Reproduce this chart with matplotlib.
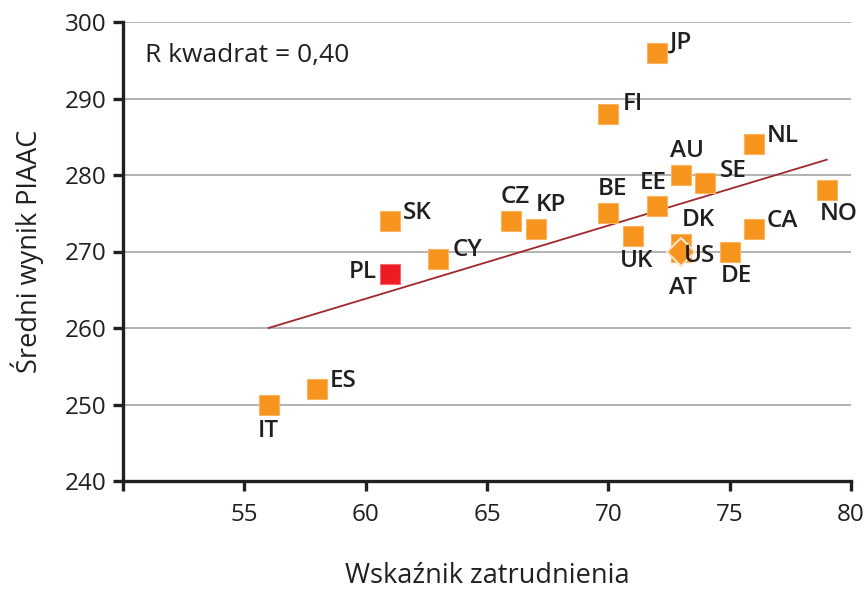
import matplotlib
matplotlib.use("Agg")
import matplotlib.pyplot as plt

plt.rcParams['font.family'] = ['Open Sans', 'DejaVu Sans']

# data
countries = ["JP", "FI", "NL", "AU", "SE", "NO", "EE", "BE", "SK", "CZ", "KP",
             "CA", "UK", "DK", "US", "DE", "CY", "ES", "IT"]
employment = [72, 70, 76, 73, 74, 79, 72, 70, 61, 66, 67, 76, 71, 73, 73, 75, 63, 58, 56]
score = [296, 288, 284, 280, 279, 278, 276, 275, 274, 274, 273, 273, 272, 271, 270, 270, 269, 252, 250]
pl_employment = 61
pl_score = 267
avg_employment = 73
avg_score = 270
trend_x = [56, 79]
trend_y = [260, 282]
r2_text = "R kwadrat = 0,40"

# label placement: (dx px, dy px, ha)
label_pos = {
    "JP": (13, 10, "left"), "FI": (14, 10, "left"),
    "NL": (13, 8, "left"), "AU": (6, 24, "center"),
    "SE": (14, 12, "left"), "NO": (-7, -24, "left"),
    "EE": (-4, 23, "center"), "BE": (4, 24, "center"),
    "SK": (13, 8, "left"), "CZ": (4, 24, "center"),
    "KP": (0, 24, "left"), "CA": (13, 8, "left"),
    "UK": (4, -25, "center"), "DK": (17, 24, "center"),
    "US": (3, -5, "left"), "DE": (7, -24, "center"),
    "CY": (14, 9, "left"), "ES": (13, 8, "left"),
    "IT": (0, -26, "center"),
}

orange = "#F7941D"
red = "#ED1C24"
txt = "#231F20"
lab_size = 17.5

fig = plt.figure(figsize=(8.65, 5.95), dpi=100)
ax = fig.add_axes([123 / 865, 1 - 481 / 595, 728 / 865, 459 / 595])

ax.set_xlim(50, 80)
ax.set_ylim(240, 300)
ax.set_xticks([50, 55, 60, 65, 70, 75, 80])
ax.set_xticklabels(["", "55", "60", "65", "70", "75", "80"])
ax.set_yticks([240, 250, 260, 270, 280, 290, 300])

ax.yaxis.grid(True, color="#A6A6A6", lw=1.2)
ax.set_axisbelow(True)
for s in ["top", "right"]:
    ax.spines[s].set_visible(False)
for s in ["left", "bottom"]:
    ax.spines[s].set_linewidth(2.4)
    ax.spines[s].set_color(txt)
ax.tick_params(axis="both", length=7, width=2.4, color=txt, labelsize=17.5,
               labelcolor=txt, pad=5)
ax.tick_params(axis="x", pad=9)

ax.plot(trend_x, trend_y, color="#A0282D", lw=1.3, zorder=2)

ax.plot(employment, score, "s", ms=15, color=orange, mec="#FBB45F", mew=0.8,
        ls="none", zorder=3)
ax.plot([pl_employment], [pl_score], "s", ms=15, color=red, mec="#F46A6F",
        mew=0.8, zorder=3)
ax.plot([avg_employment], [avg_score], "D", ms=14, color=orange, mec="#F6E2C8",
        mew=1.5, zorder=4)

px = 72 / 100
for c, x, y in zip(countries, employment, score):
    dx, dy, ha = label_pos[c]
    ax.annotate(c, (x, y), xytext=(dx * px, dy * px), textcoords="offset points",
                ha=ha, va="center", fontsize=lab_size, fontweight="semibold",
                color=txt, zorder=5)
ax.annotate("PL", (pl_employment, pl_score), xytext=(-13 * px, 2 * px),
            textcoords="offset points", ha="right", va="center",
            fontsize=lab_size, fontweight="semibold", color=txt)
ax.annotate("AT", (avg_employment, avg_score), xytext=(2 * px, -36 * px),
            textcoords="offset points", ha="center", va="center",
            fontsize=lab_size, fontweight="semibold", color=txt)

ax.text(0.03, 0.928, r2_text, transform=ax.transAxes, fontsize=19,
        color=txt, ha="left", va="center")

ax.set_xlabel("Wskaźnik zatrudnienia", fontsize=19.5, color=txt, labelpad=25)
ax.set_ylabel("Średni wynik PIAAC", fontsize=19.5, color=txt, labelpad=15)

fig.savefig("out.png", dpi=100)
